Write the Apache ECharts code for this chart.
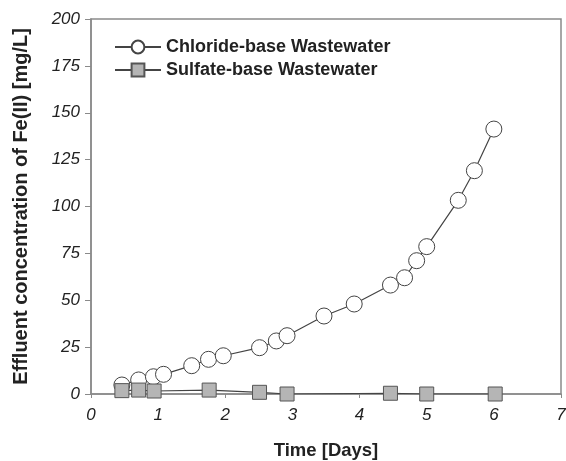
<!DOCTYPE html>
<html>
<head>
<meta charset="utf-8">
<script src="https://cdn.jsdelivr.net/npm/echarts@6/dist/echarts.min.js"></script>
<style>
  html, body { margin: 0; padding: 0; background: #fff; }
  #chart { width: 566px; height: 461px; }
</style>
</head>
<body>
<div id="chart"></div>
<script>
// 读图得到的数据 (天, mg/L)
const chlorideDays = [0.46, 0.71, 0.93, 1.08, 1.50, 1.75, 1.97, 2.51, 2.76, 2.92, 3.47, 3.92, 4.46, 4.67, 4.85, 5.00, 5.47, 5.71, 6.00];
const chlorideFe = [4.8, 7.5, 9.2, 10.5, 15.1, 18.5, 20.4, 24.7, 28.3, 31.1, 41.6, 48.0, 58.1, 62.0, 71.1, 78.6, 103.3, 119.1, 141.3];
const sulfateDays = [0.46, 0.71, 0.94, 1.76, 2.51, 2.92, 4.46, 5.00, 6.02];
const sulfateFe = [1.8, 2.1, 1.6, 2.1, 0.9, 0.0, 0.4, 0.0, 0.0];
const seriesNames = ['Chloride-base Wastewater', 'Sulfate-base Wastewater'];

const pairs = (xs, ys) => xs.map((x, i) => [x, ys[i]]);

const myChart = echarts.init(document.getElementById('chart'));

const axisColor = '#8a8a8a';
const fontFamily = 'Liberation Sans, Arial, sans-serif';
const labelFont = { color: '#222', fontSize: 17, fontStyle: 'italic', fontFamily: fontFamily };

const option = {
    animation: false,
    backgroundColor: '#fff',
    grid: {
        left: 91, right: 5, top: 19, bottom: 67,
        outerBoundsMode: 'none',
        containLabel: false,
        show: true,
        borderColor: axisColor,
        borderWidth: 1.5,
        backgroundColor: 'transparent'
    },
    legend: {
        orient: 'vertical',
        left: 109,
        top: 33,
        itemWidth: 46,
        itemHeight: 16,
        itemGap: 5,
        data: seriesNames,
        textStyle: {
            color: '#222',
            fontSize: 18,
            fontWeight: 'bold',
            fontFamily: fontFamily
        }
    },
    xAxis: {
        type: 'value',
        min: 0, max: 7, interval: 1,
        name: 'Time [Days]',
        nameLocation: 'middle',
        nameGap: 47,
        nameTextStyle: { color: '#222', fontSize: 18.5, fontWeight: 'bold', fontFamily: fontFamily },
        axisLine: { lineStyle: { color: axisColor, width: 1.5 } },
        axisTick: { length: 4, lineStyle: { color: axisColor } },
        axisLabel: Object.assign({ margin: 13 }, labelFont),
        splitLine: { show: false }
    },
    yAxis: {
        type: 'value',
        min: 0, max: 200, interval: 25,
        name: 'Effluent concentration of Fe(II) [mg/L]',
        nameLocation: 'middle',
        nameGap: 60,
        nameTextStyle: { color: '#222', fontSize: 20, fontWeight: 'bold', fontFamily: fontFamily },
        axisLine: { lineStyle: { color: axisColor, width: 1.5 } },
        axisTick: { length: 6, lineStyle: { color: axisColor } },
        axisLabel: Object.assign({ margin: 11 }, labelFont),
        splitLine: { show: false }
    },
    series: [
        {
            name: seriesNames[0],
            type: 'line',
            data: pairs(chlorideDays, chlorideFe),
            symbol: 'circle',
            symbolSize: 16,
            z: 3,
            lineStyle: { color: '#444', width: 1.2 },
            itemStyle: { color: '#fff', borderColor: '#444', borderWidth: 1 }
        },
        {
            name: seriesNames[1],
            type: 'line',
            data: pairs(sulfateDays, sulfateFe),
            symbol: 'rect',
            symbolSize: 14,
            z: 4,
            lineStyle: { color: '#444', width: 1.2 },
            itemStyle: { color: '#b5b5b5', borderColor: '#555', borderWidth: 1 }
        }
    ]
};

myChart.setOption(option);
</script>
</body>
</html>
